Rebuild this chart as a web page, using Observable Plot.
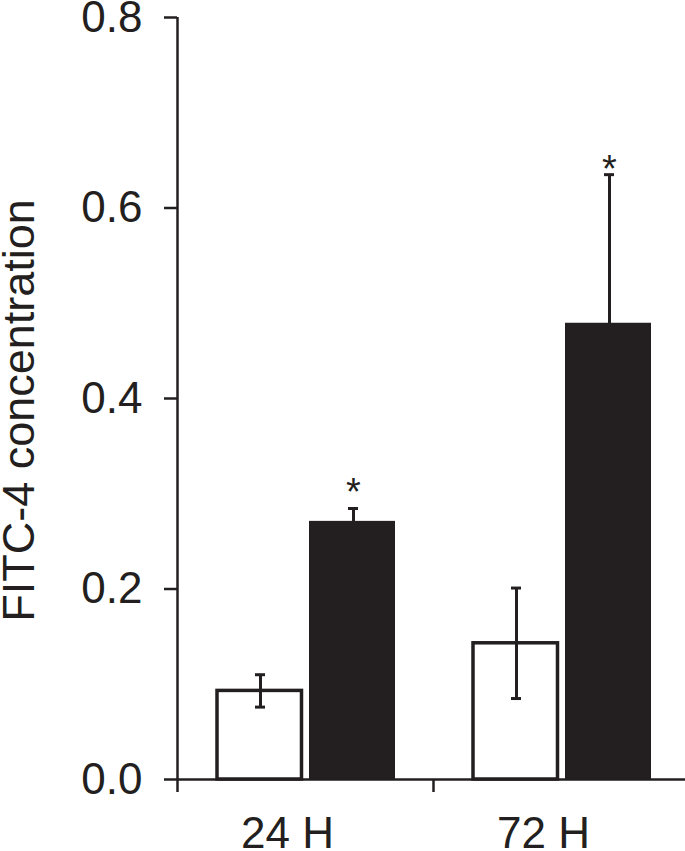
<!DOCTYPE html>
<html><head><meta charset="utf-8">
<script src="https://cdn.jsdelivr.net/npm/d3@7"></script>
<script src="https://cdn.jsdelivr.net/npm/@observablehq/plot@0.6"></script>
<style>html,body{margin:0;padding:0;background:#fff;overflow:hidden}</style>
</head><body><div id="chart"></div>
<script>
// ---- data ----
const groups = ["24 H", "72 H"];
const series = ["Control", "FITC-4"];
const controlMean = [0.093, 0.143];
const controlErr = [0.017, 0.058];
const fitcMean = [0.271, 0.479];
const fitcErr = [0.0135, 0.156];
const starAt = [0.311, 0.651];          // significance asterisks (FITC-4 bars)
const yTicks = [0, 0.2, 0.4, 0.6, 0.8];
const yLabel = "FITC-4 concentration";

const rows = groups.flatMap((g, i) => [
  {group: g, series: series[0], mean: controlMean[i], err: controlErr[i]},
  {group: g, series: series[1], mean: fitcMean[i], err: fitcErr[i], star: starAt[i]}
]);
const ctrl = rows.filter(d => d.series === series[0]);
const fitc = rows.filter(d => d.series === series[1]);

// ---- layout ----
const W = 685, H = 851, mL = 177, mR = -4, mT = 17, mB = 72;
const bw = (W - mL - mR) / groups.length;
const innerH = H - mT - mB;
const ink = "#231f20";
const capHalf = 5;
const dxCtrl = -45, dxFitc = 48;

const errMarks = (data, dx) => [
  Plot.ruleX(data, {x: "group", y1: d => d.mean - d.err, y2: d => d.mean + d.err, dx, stroke: ink, strokeWidth: 3}),
  Plot.tickY(data, {x: "group", y: d => d.mean + d.err, dx, insetLeft: bw / 2 - capHalf, insetRight: bw / 2 - capHalf, stroke: ink, strokeWidth: 3}),
  Plot.tickY(data, {x: "group", y: d => d.mean - d.err, dx, insetLeft: bw / 2 - capHalf, insetRight: bw / 2 - capHalf, stroke: ink, strokeWidth: 3})
];

const chart = Plot.plot({
  width: W, height: H,
  marginLeft: mL, marginRight: mR, marginTop: mT, marginBottom: mB,
  style: {fontFamily: "'Liberation Sans', Arial, Helvetica, sans-serif", fontSize: "44px", color: ink, background: "white"},
  x: {domain: groups, padding: 0},
  y: {domain: [yTicks[0], yTicks[yTicks.length - 1]]},
  marks: [
    Plot.barY(ctrl, {x: "group", y: "mean", fill: "white", stroke: ink, strokeWidth: 3.5, insetLeft: 40, insetRight: 131.5}),
    Plot.barY(fitc, {x: "group", y: "mean", fill: ink, insetLeft: 132, insetRight: 38}),
    ...errMarks(ctrl, dxCtrl),
    ...errMarks(fitc, dxFitc),
    Plot.ruleY([yTicks[0]], {stroke: ink, strokeWidth: 2.5}),
    Plot.ruleX([groups[0]], {x: d => d, y1: yTicks[0], y2: yTicks[yTicks.length - 1], dx: -bw / 2, stroke: ink, strokeWidth: 2.5}),
    Plot.ruleX(groups, {x: d => d, dx: -bw / 2, insetTop: innerH, insetBottom: -13, stroke: ink, strokeWidth: 2.5}),
    Plot.text(fitc, {x: "group", y: "star", text: () => "*", dx: dxFitc, dy: 10, fontSize: 38, fill: ink}),
    Plot.text([yLabel], {text: d => d, frameAnchor: "left", textAnchor: "middle", rotate: -90, dx: -158, dy: 12, fontSize: 45, fill: ink}),
    Plot.axisY({ticks: yTicks, tickFormat: d3.format(".1f"), tickSize: 13, tickPadding: 22, strokeWidth: 2.5, color: ink, label: null}),
    Plot.axisX({tickSize: 0, tickPadding: 37, dx: -18, color: ink, label: null})
  ]
});
document.getElementById("chart").appendChild(chart);
</script>
</body></html>
